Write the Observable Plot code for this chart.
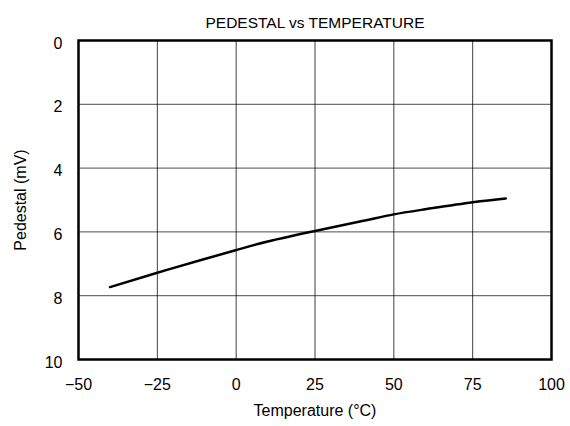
<!DOCTYPE html>
<html>
<head>
<meta charset="utf-8">
<script src="https://cdn.jsdelivr.net/npm/d3@7"></script>
<script src="https://cdn.jsdelivr.net/npm/@observablehq/plot@0.6"></script>
<style>
  body { margin: 0; background: #fff; }
  svg { font-family: "Liberation Sans", Arial, sans-serif; }
</style>
</head>
<body>
<div id="chart"></div>
<script>
const temperature = [-40, -25, -10, 0, 10, 25, 40, 50, 60, 75, 85.5];
const pedestal    = [7.73, 7.28, 6.85, 6.57, 6.30, 5.97, 5.66, 5.45, 5.29, 5.07, 4.95];
const xTicks = [-50, -25, 0, 25, 50, 75, 100];
const yTicks = [0, 2, 4, 6, 8, 10];
const title = "PEDESTAL vs TEMPERATURE";
const xLabel = "Temperature (°C)";
const yLabel = "Pedestal (mV)";

const data = temperature.map((t, i) => ({t, p: pedestal[i]}));

const chart = Plot.plot({
  width: 570,
  height: 426,
  marginTop: 40,
  marginBottom: 67,
  marginLeft: 78,
  marginRight: 19,
  style: {fontFamily: "Liberation Sans, Arial, sans-serif", fontSize: "16px", color: "black", background: "white"},
  x: {domain: [-50, 100], ticks: xTicks},
  y: {domain: [0, 10], reverse: true, ticks: yTicks},
  marks: [
    Plot.gridX(xTicks.slice(1, -1), {stroke: "black", strokeOpacity: 0.75, strokeWidth: 1}),
    Plot.gridY(yTicks.slice(1, -1), {stroke: "black", strokeOpacity: 0.7, strokeWidth: 1}),
    Plot.axisX(xTicks, {tickSize: 0, tickPadding: 19, fontSize: 16, label: null}),
    Plot.axisY(yTicks, {tickSize: 0, tickPadding: 16, dy: 3, fontSize: 16, label: null}),
    Plot.text([xLabel], {frameAnchor: "bottom", dy: 56, fontSize: 16}),
    Plot.text([yLabel], {frameAnchor: "left", textAnchor: "middle", dx: -58, rotate: -90, fontSize: 16}),
    Plot.text([title], {frameAnchor: "top", dy: -24, fontSize: 15.5}),
    Plot.line(data, {x: "t", y: "p", curve: "natural", stroke: "black", strokeWidth: 2.5}),
    Plot.frame({stroke: "black", strokeWidth: 2.5})
  ]
});
document.getElementById("chart").append(chart);
</script>
</body>
</html>
